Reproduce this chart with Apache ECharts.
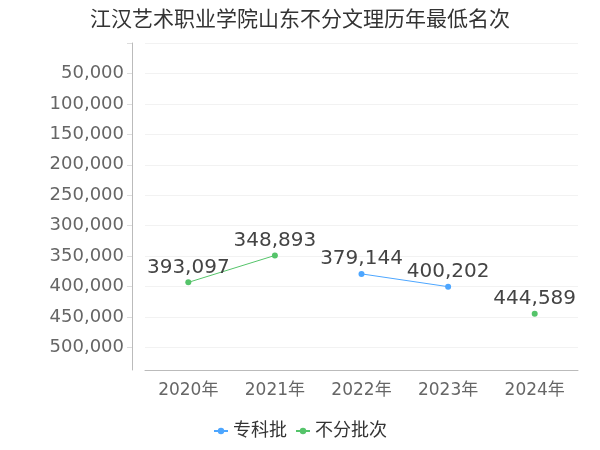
<!DOCTYPE html><html><head><meta charset="utf-8"><script src="https://cdn.jsdelivr.net/npm/echarts@6/dist/echarts.min.js"></script></head><body style="margin:0"><div id="c" style="width:600px;height:450px"></div><script>
const categories=['2020年','2021年','2022年','2023年','2024年'];
const zhuanke=[null,null,379144,400202,null];
const bufen=[393097,348893,null,null,444589];
const c=echarts.init(document.getElementById('c'));
const F='DejaVu Sans, Noto Sans CJK SC';
const lbl={show:true,position:'top',fontSize:20,fontFamily:F,color:'#444',formatter:p=>p.value.toLocaleString('en-US'),distance:2};
c.setOption({
textStyle:{fontFamily:F},
title:{text:'江汉艺术职业学院山东不分文理历年最低名次',left:'center',top:5,textStyle:{fontSize:21,fontWeight:'normal',color:'#333',fontFamily:F}},
legend:{bottom:5,itemGap:8,itemWidth:14,itemHeight:8,textStyle:{fontSize:18,color:'#333',fontFamily:F},data:['专科批','不分批次']},
grid:{left:145,right:22,top:43,bottom:80},
xAxis:{type:'category',position:'bottom',data:categories,axisLabel:{fontSize:17,color:'#666',fontFamily:F,margin:12},axisLine:{onZero:false,lineStyle:{color:'#bbb'}},axisTick:{show:false}},
yAxis:{type:'value',inverse:true,min:0,max:537000,interval:50000,offset:13,axisLine:{show:true,lineStyle:{color:'#bbb'}},axisTick:{show:true,lineStyle:{color:'#ddd'}},
axisLabel:{fontSize:18,color:'#666',fontFamily:F,showMaxLabel:false,formatter:v=>v===0?'':v.toLocaleString('en-US')},splitLine:{lineStyle:{color:'#f2f2f2'}}},
series:[
{name:'专科批',type:'line',data:zhuanke,color:'#4da6ff',symbolSize:6,symbol:'circle',lineStyle:{width:1},label:lbl},
{name:'不分批次',type:'line',data:bufen,color:'#55c46a',symbolSize:6,symbol:'circle',lineStyle:{width:1},label:lbl}
]});
</script></body></html>
